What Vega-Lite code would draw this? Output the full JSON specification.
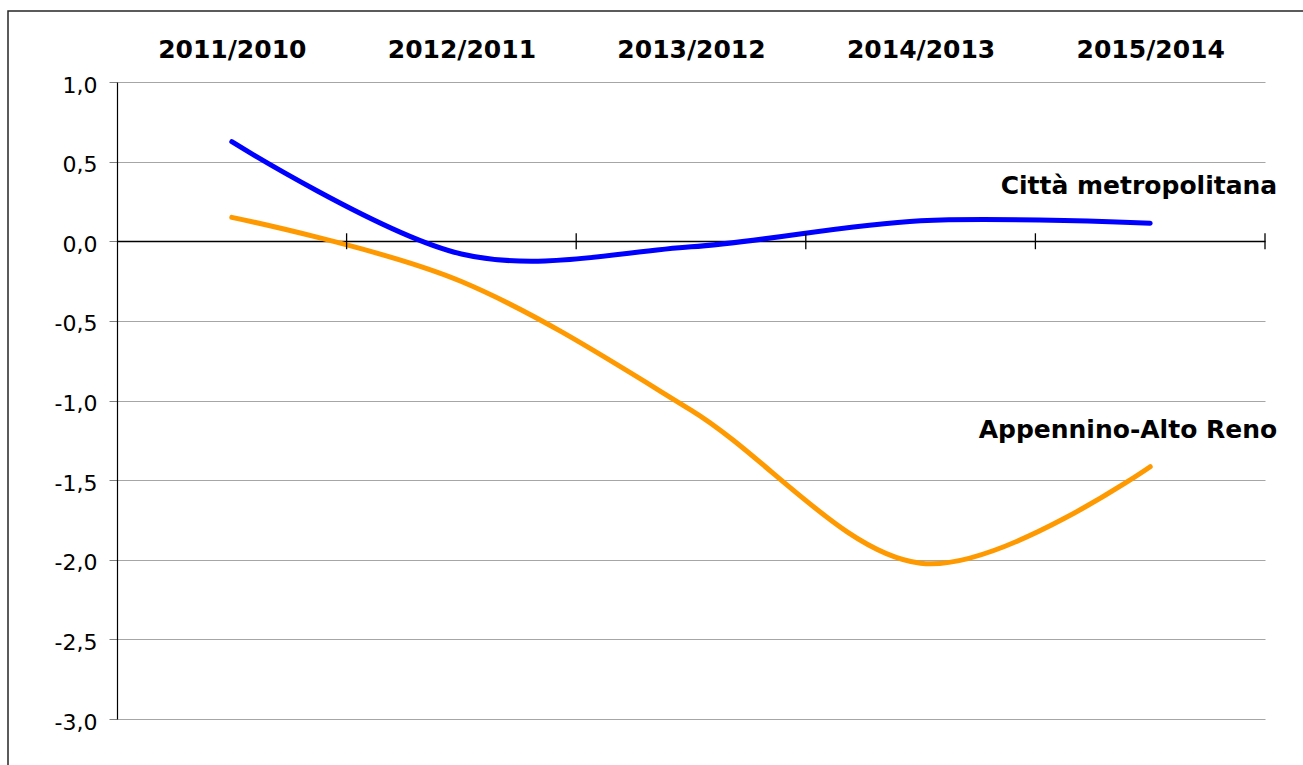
{
  "$schema": "https://vega.github.io/schema/vega-lite/v6.json",
  "width": 1300,
  "height": 760,
  "autosize": {"type": "none"},
  "padding": {"left": 8, "top": 11, "right": -5, "bottom": -6},
  "background": "white",
  "config": {
    "locale": {"number": {"decimal": ",", "thousands": ".", "grouping": [3], "currency": ["", " €"], "minus": "-"}},
    "view": {"stroke": "#262626", "strokeWidth": 1.5},
    "font": "DejaVu Sans"
  },
  "data": {
    "values": [
      {"periodo": "2011/2010", "serie": "Città metropolitana", "valore": 0.625},
      {"periodo": "2012/2011", "serie": "Città metropolitana", "valore": -0.08},
      {"periodo": "2013/2012", "serie": "Città metropolitana", "valore": -0.035},
      {"periodo": "2014/2013", "serie": "Città metropolitana", "valore": 0.129},
      {"periodo": "2015/2014", "serie": "Città metropolitana", "valore": 0.113},
      {"periodo": "2011/2010", "serie": "Appennino-Alto Reno", "valore": 0.15},
      {"periodo": "2012/2011", "serie": "Appennino-Alto Reno", "valore": -0.253},
      {"periodo": "2013/2012", "serie": "Appennino-Alto Reno", "valore": -1.06},
      {"periodo": "2014/2013", "serie": "Appennino-Alto Reno", "valore": -2.022},
      {"periodo": "2015/2014", "serie": "Appennino-Alto Reno", "valore": -1.416}
    ]
  },
  "encoding": {
    "x": {
      "field": "periodo",
      "type": "ordinal",
      "sort": null,
      "scale": {"type": "point", "range": [109, 1257], "padding": 0.5},
      "axis": {
        "orient": "top",
        "offset": -71,
        "domain": false,
        "ticks": false,
        "tickSize": 0,
        "grid": false,
        "labelAngle": 0,
        "labelFont": "DejaVu Sans",
        "labelFontSize": 25,
        "labelFontWeight": "bold",
        "labelColor": "black",
        "labelBaseline": "alphabetic",
        "labelPadding": 25,
        "title": null
      }
    }
  },
  "layer": [
    {
      "mark": {"type": "line", "interpolate": "cardinal", "strokeWidth": 5, "strokeCap": "round", "strokeJoin": "round"},
      "encoding": {
        "y": {
          "field": "valore",
          "type": "quantitative",
          "scale": {"domain": [-3, 1], "range": [708, 71], "nice": false, "zero": false},
          "axis": {
            "orient": "left",
            "offset": -109,
            "values": [-3, -2.5, -2, -1.5, -1, -0.5, 0, 0.5, 1],
            "format": ".1f",
            "labelFont": "DejaVu Sans",
            "labelFontSize": 22,
            "labelColor": "black",
            "labelPadding": 12,
            "labelOffset": 3,
            "tickSize": 8,
            "tickColor": "#808080",
            "domainColor": "black",
            "domainWidth": 1.2,
            "grid": true,
            "gridColor": {"condition": {"test": "datum.value === 0", "value": "black"}, "value": "#a6a6a6"},
            "gridWidth": {"condition": {"test": "datum.value === 0", "value": 1.5}, "value": 1.2},
            "title": null
          }
        },
        "color": {
          "field": "serie",
          "type": "nominal",
          "scale": {"domain": ["Città metropolitana", "Appennino-Alto Reno"], "range": ["#0000FF", "#FF9900"]},
          "legend": null
        }
      }
    },
    {
      "transform": [{"filter": "datum.serie === 'Città metropolitana'"}],
      "mark": {"type": "rule", "xOffset": 114.8, "color": "black", "strokeWidth": 1.3},
      "encoding": {
        "y": {"datum": 0.05},
        "y2": {"datum": -0.05}
      }
    },
    {
      "transform": [{"filter": "datum.periodo === '2015/2014'"}],
      "mark": {"type": "text", "align": "right", "baseline": "alphabetic", "dx": 127, "dy": -29, "fontSize": 25, "fontWeight": "bold", "color": "black", "font": "DejaVu Sans"},
      "encoding": {
        "y": {"field": "valore", "type": "quantitative"},
        "text": {"field": "serie"}
      }
    }
  ]
}
